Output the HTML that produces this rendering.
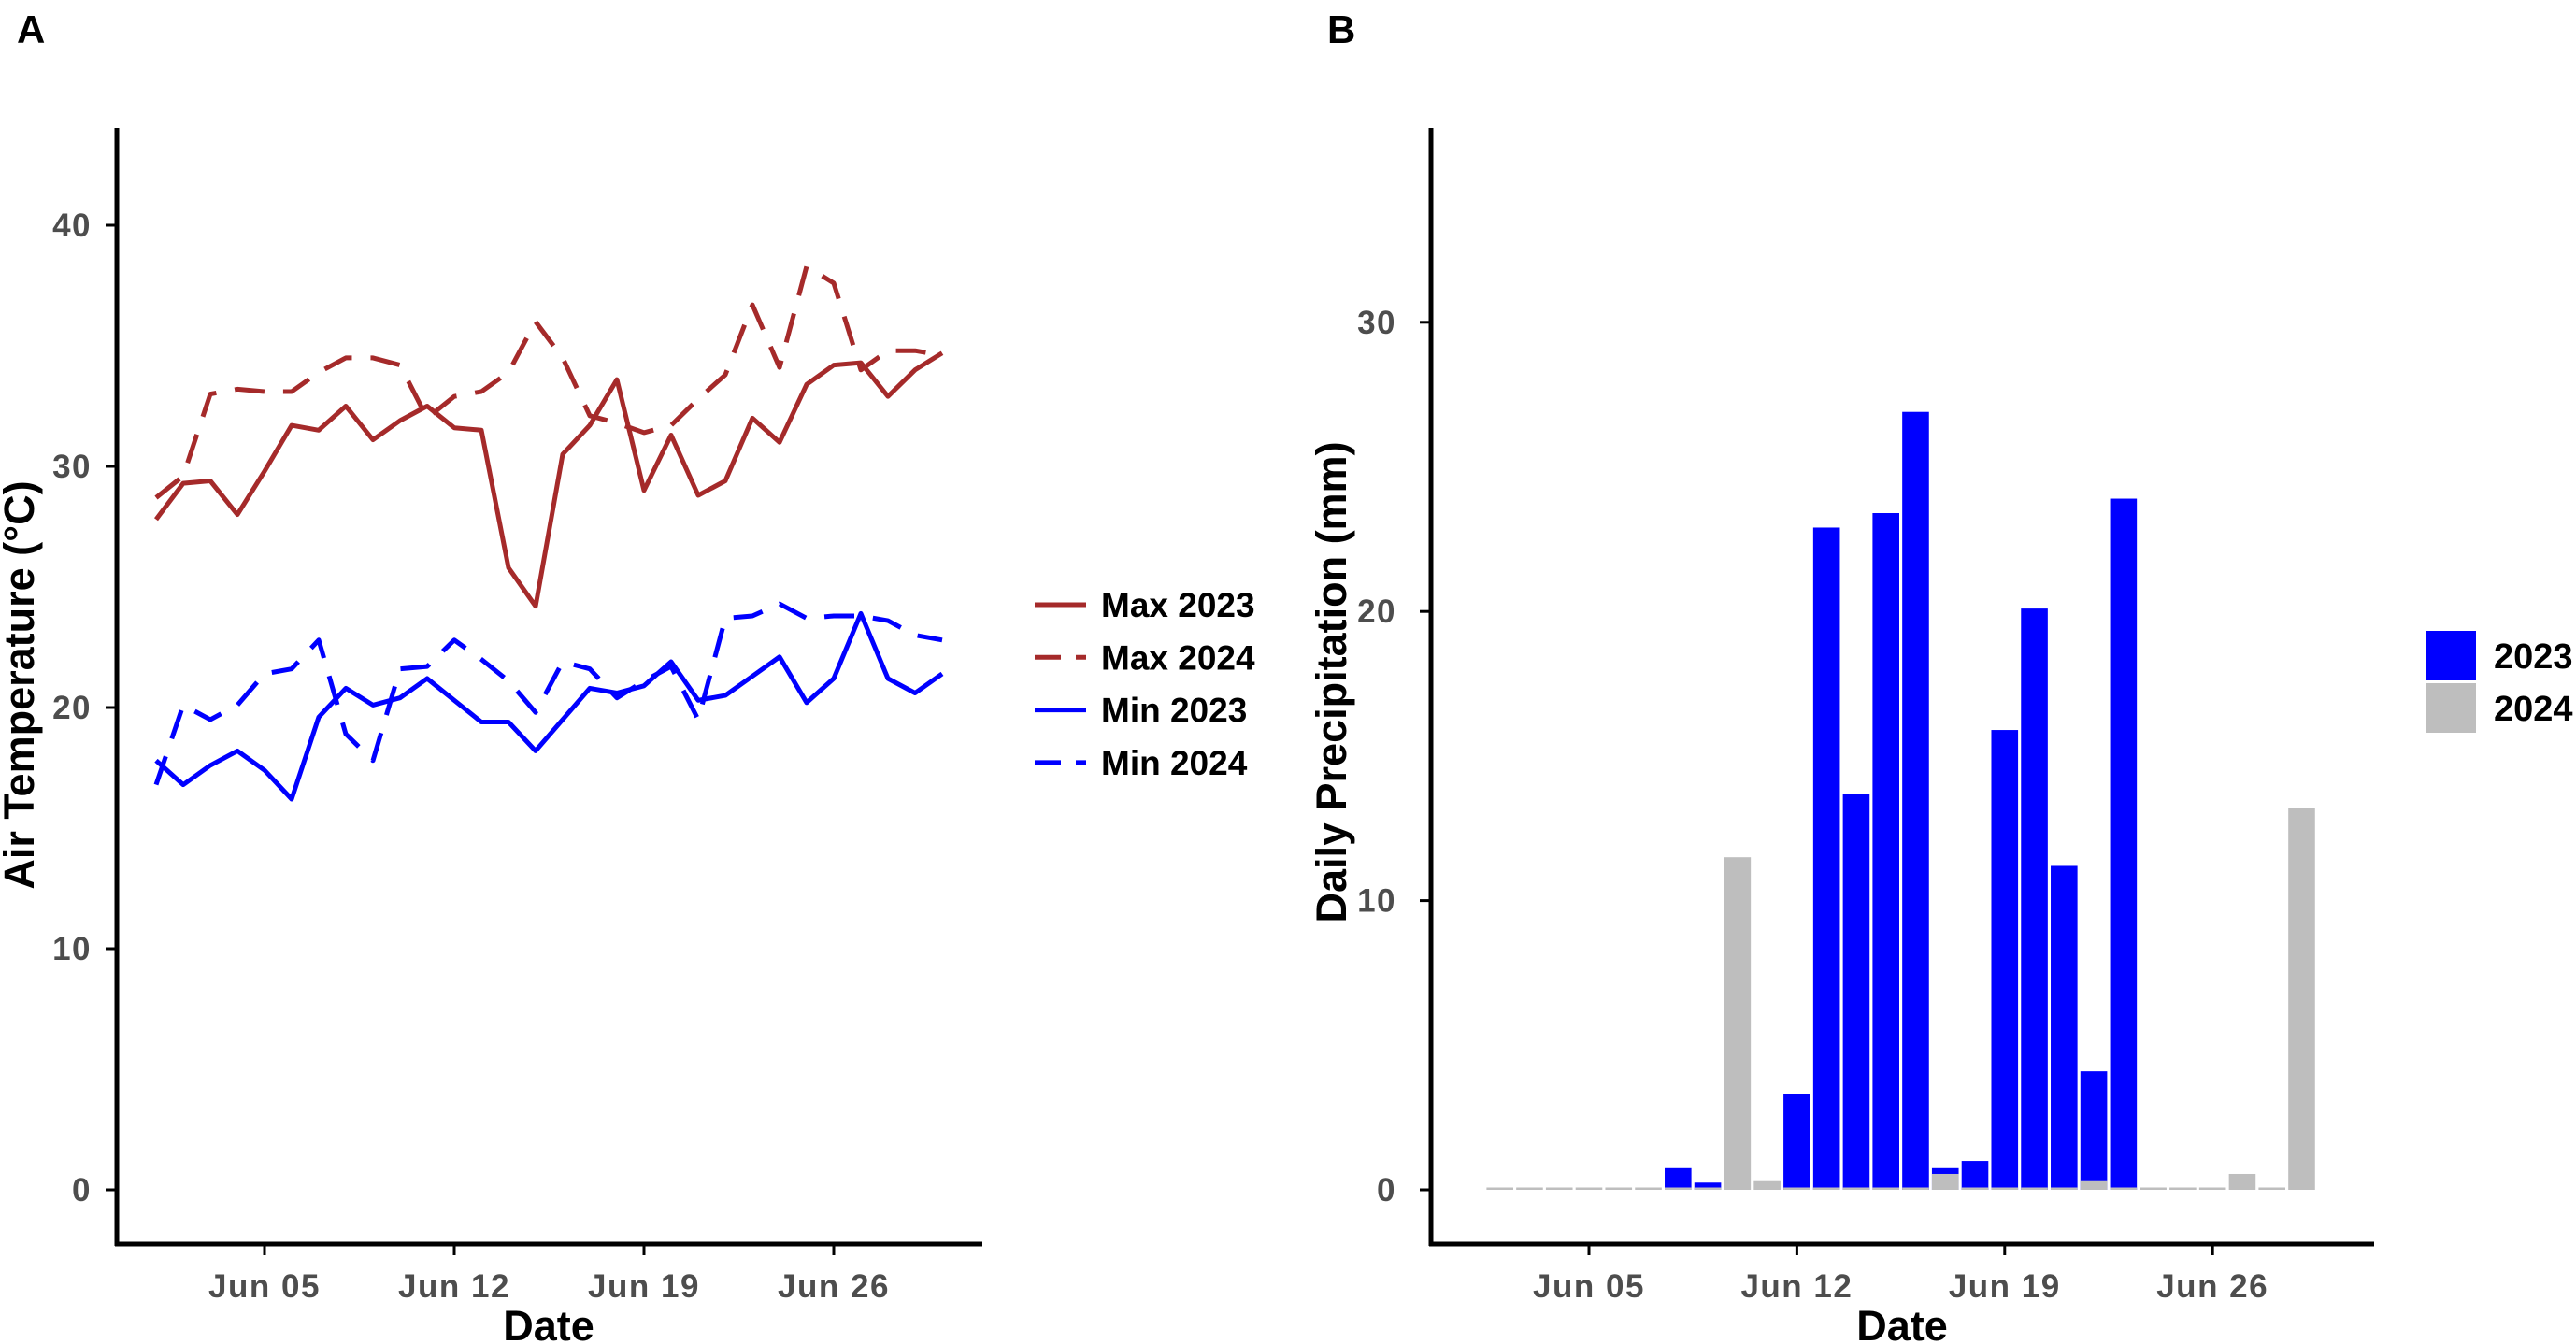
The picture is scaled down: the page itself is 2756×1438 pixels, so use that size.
<!DOCTYPE html>
<html><head><meta charset="utf-8"><style>
html,body{margin:0;padding:0;background:#fff}
svg{display:block;font-family:"Liberation Sans",Arial,sans-serif}
</style></head><body>
<svg id="fig" width="2756" height="1438" viewBox="0 0 2756 1438" xmlns="http://www.w3.org/2000/svg">
<text x="18" y="46" font-size="42" font-weight="bold">A</text>
<text x="1420" y="46" font-size="42" font-weight="bold">B</text>
<g id="pa"></g>
<g id="pb"></g>
</svg>
<script>
const days = [1,2,3,4,5,6,7,8,9,10,11,12,13,14,15,16,17,18,19,20,21,22,23,24,25,26,27,28,29,30];
const max2023 = [27.8,29.3,29.4,28.0,29.8,31.7,31.5,32.5,31.1,31.9,32.5,31.6,31.5,25.8,24.2,30.5,31.7,33.6,29.0,31.3,28.8,29.4,32.0,31.0,33.4,34.2,34.3,32.9,34.0,34.7];
const max2024 = [28.7,29.6,33.0,33.2,33.1,33.1,33.9,34.5,34.5,34.2,32.0,32.9,33.1,33.9,36.0,34.5,32.1,31.8,31.4,31.7,32.8,33.8,36.7,34.1,38.3,37.6,34.0,34.8,34.8,34.6];
const min2023 = [17.8,16.8,17.6,18.2,17.4,16.2,19.6,20.8,20.1,20.4,21.2,20.3,19.4,19.4,18.2,19.5,20.8,20.6,20.9,21.9,20.3,20.5,21.3,22.1,20.2,21.2,23.9,21.2,20.6,21.4];
const min2024 = [16.8,20.1,19.5,20.1,21.4,21.6,22.8,18.9,17.8,21.6,21.7,22.8,22.0,21.1,19.8,21.9,21.6,20.4,21.1,21.7,19.5,23.7,23.8,24.3,23.7,23.8,23.8,23.6,23.0,22.8];
const tempTicks = [0,10,20,30,40];
const dateTicks = [5,12,19,26];
const dateLabels = ["Jun 05","Jun 12","Jun 19","Jun 26"];
const precipDays = [2,3,4,5,6,7,8,9,10,11,12,13,14,15,16,17,18,19,20,21,22,23,24,25,26,27,28,29];
const precip2023 = [0,0,0,0,0,0,0.75,0.25,0,0,3.3,22.9,13.7,23.4,26.9,0.75,1.0,15.9,20.1,11.2,4.1,23.9,0,0,0,0,0,0];
const precip2024 = [0,0,0,0,0,0,0,0,11.5,0.3,0,0,0,0,0,0.55,0,0,0,0,0.3,0,0,0,0,0.55,0,13.2];
const precipTicks = [0,10,20,30];

const NS="http://www.w3.org/2000/svg";
function mk(parent,tag,attrs,txt){const e=document.createElementNS(NS,tag);for(const k in attrs)e.setAttribute(k,attrs[k]);if(txt!==undefined)e.textContent=txt;parent.appendChild(e);return e;}
const TF=35, LS=1.5;

// Panel A
const pa=document.getElementById('pa');
const ax=d=>167+(d-1)*29.0;
const ay=v=>1273-v*25.8;
let e;
e=mk(pa,'line',{x1:125,y1:137,x2:125,y2:1333,stroke:'#000','stroke-width':5});


e=mk(pa,'line',{x1:123,y1:1331,x2:1051,y2:1331,stroke:'#000','stroke-width':5});


tempTicks.forEach(t=>{
  e=mk(pa,'line',{x1:113,y1:ay(t),x2:125,y2:ay(t),stroke:'#000','stroke-width':3});
  
  
  e=mk(pa,'text',{x:98,y:ay(t)+12,'text-anchor':'end','font-size':TF,'font-weight':'bold',fill:'#4d4d4d','letter-spacing':LS},String(t));
  
  
});
dateTicks.forEach((d,i)=>{
  e=mk(pa,'line',{x1:ax(d),y1:1331,x2:ax(d),y2:1343,stroke:'#000','stroke-width':3});
  
  
  e=mk(pa,'text',{x:ax(d),y:1388,'text-anchor':'middle','font-size':TF,'font-weight':'bold',fill:'#4d4d4d','letter-spacing':LS},dateLabels[i]);
  
  
});
e=mk(pa,'text',{x:587,y:1434,'text-anchor':'middle','font-size':45,'font-weight':'bold'},'Date');


e=mk(pa,'text',{x:0,y:0,'text-anchor':'middle','font-size':45,'font-weight':'bold',transform:'translate(36,733) rotate(-90)'},'Air Temperature (°C)');


const series=[[max2023,'#a52a2a',null,'max-2023-line'],[max2024,'#a52a2a','32 20','max-2024-line'],[min2023,'#0000ff',null,'min-2023-line'],[min2024,'#0000ff','32 20','min-2024-line']];
series.forEach(s=>{
  const pts=s[0].map((v,i)=>ax(days[i]).toFixed(1)+','+ay(v).toFixed(1)).join(' ');
  const a={points:pts,fill:'none',stroke:s[1],'stroke-width':5,'stroke-linejoin':'round'};
  if(s[2])a['stroke-dasharray']=s[2];
  e=mk(pa,'polyline',a);
  
  
});
const legA=[['Max 2023','#a52a2a',null],['Max 2024','#a52a2a','32 20'],['Min 2023','#0000ff',null],['Min 2024','#0000ff','32 20']];
legA.forEach((l,i)=>{
  const y=647+i*56.3;
  const a={x1:1107,y1:y,x2:1162,y2:y,stroke:l[1],'stroke-width':5};
  if(l[2])a['stroke-dasharray']='28 16';
  e=mk(pa,'line',a);
  
  
  e=mk(pa,'text',{x:1178,y:y+13,'font-size':37,'font-weight':'bold'},l[0]);
  
  
});

// Panel B
const pb=document.getElementById('pb');
const bx=d=>1700+(d-5)*31.77;
const by=v=>1273-v*30.94;
const bw=28.6;
e=mk(pb,'line',{x1:1531,y1:137,x2:1531,y2:1333,stroke:'#000','stroke-width':5});


e=mk(pb,'line',{x1:1529,y1:1331,x2:2540,y2:1331,stroke:'#000','stroke-width':5});


precipTicks.forEach(t=>{
  e=mk(pb,'line',{x1:1519,y1:by(t),x2:1531,y2:by(t),stroke:'#000','stroke-width':3});
  
  
  e=mk(pb,'text',{x:1494,y:by(t)+12,'text-anchor':'end','font-size':TF,'font-weight':'bold',fill:'#4d4d4d','letter-spacing':LS},String(t));
  
  
});
dateTicks.forEach((d,i)=>{
  e=mk(pb,'line',{x1:bx(d),y1:1331,x2:bx(d),y2:1343,stroke:'#000','stroke-width':3});
  
  
  e=mk(pb,'text',{x:bx(d),y:1388,'text-anchor':'middle','font-size':TF,'font-weight':'bold',fill:'#4d4d4d','letter-spacing':LS},dateLabels[i]);
  
  
});
e=mk(pb,'text',{x:2035,y:1434,'text-anchor':'middle','font-size':45,'font-weight':'bold'},'Date');


e=mk(pb,'text',{x:0,y:0,'text-anchor':'middle','font-size':45,'font-weight':'bold',transform:'translate(1440,730) rotate(-90)'},'Daily Precipitation (mm)');


[[precip2023,'#0000ff','bar-2023'],[precip2024,'#bebebe','bar-2024']].forEach(s=>{
  s[0].forEach((v,i)=>{
    if(v<=0 && s[1]==='#0000ff')return;
    const h=Math.max(by(0)-by(v),2.5);
    e=mk(pb,'rect',{x:bx(precipDays[i])-bw/2,y:by(0)-h,width:bw,height:h,fill:s[1]});
    
    
  });
});
[['2023','#0000ff'],['2024','#bebebe']].forEach((l,i)=>{
  const y=675+i*56;
  e=mk(pb,'rect',{x:2596,y:y,width:53,height:53,fill:l[1]});
  
  
  e=mk(pb,'text',{x:2668,y:y+40,'font-size':38,'font-weight':'bold'},l[0]);
  
  
});
</script>
</body></html>
